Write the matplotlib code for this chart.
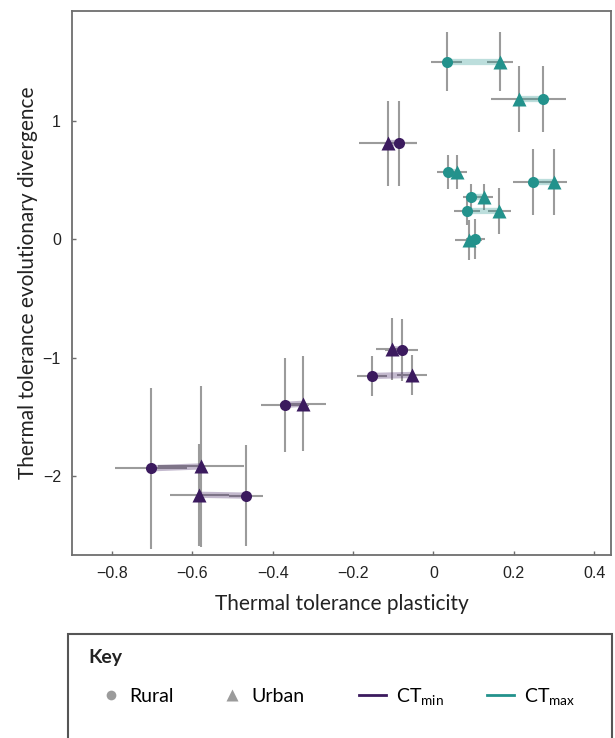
import numpy as np
import matplotlib
matplotlib.use("Agg")
import matplotlib.pyplot as plt
from matplotlib.lines import Line2D
from matplotlib.patches import Rectangle

plt.rcParams["font.family"] = ["Lato", "DejaVu Sans"]
plt.rcParams["mathtext.fontset"] = "custom"
plt.rcParams["mathtext.rm"] = "Lato"
plt.rcParams["mathtext.it"] = "Lato:italic"

# CTmax pairs (rural vs urban)
ctmax_rural_x = [0.033, 0.272, 0.037, 0.248, 0.094, 0.084, 0.104]
ctmax_rural_y = [1.50, 1.186, 0.566, 0.487, 0.355, 0.239, 0.00]
ctmax_rural_xerr = [0.038, 0.059, 0.029, 0.049, 0.021, 0.032, 0.024]
ctmax_rural_yerr = [0.25, 0.28, 0.145, 0.28, 0.11, 0.12, 0.17]
ctmax_urban_x = [0.166, 0.214, 0.059, 0.301, 0.126, 0.164, 0.088]
ctmax_urban_y = [1.50, 1.186, 0.57, 0.487, 0.36, 0.24, -0.005]
ctmax_urban_xerr = [0.033, 0.072, 0.025, 0.031, 0.022, 0.028, 0.034]
ctmax_urban_yerr = [0.25, 0.28, 0.145, 0.28, 0.11, 0.195, 0.17]

# CTmin pairs
ctmin_rural_x = [-0.087, -0.079, -0.153, -0.369, -0.703, -0.467]
ctmin_rural_y = [0.81, -0.936, -1.155, -1.40, -1.936, -2.167]
ctmin_rural_xerr = [0.046, 0.041, 0.038, 0.060, 0.089, 0.042]
ctmin_rural_yerr = [0.36, 0.26, 0.17, 0.40, 0.68, 0.43]
ctmin_urban_x = [-0.113, -0.103, -0.054, -0.324, -0.579, -0.583]
ctmin_urban_y = [0.81, -0.927, -1.147, -1.39, -1.92, -2.16]
ctmin_urban_xerr = [0.072, 0.040, 0.037, 0.057, 0.106, 0.073]
ctmin_urban_yerr = [0.36, 0.26, 0.17, 0.40, 0.68, 0.43]

CTMIN_COL = "#3b1a5e"
CTMAX_COL = "#23928c"
ERR_COL = "#9b9b9b"
FRAME_COL = "#6e6e6e"
W, H = 615, 738

fig = plt.figure(figsize=(W / 100, H / 100), dpi=100)
ax = fig.add_axes([72 / W, 1 - 555 / H, (611 - 72) / W, (555 - 11) / H])

groups = [
    (ctmax_rural_x, ctmax_rural_y, ctmax_rural_xerr, ctmax_rural_yerr,
     ctmax_urban_x, ctmax_urban_y, ctmax_urban_xerr, ctmax_urban_yerr, CTMAX_COL),
    (ctmin_rural_x, ctmin_rural_y, ctmin_rural_xerr, ctmin_rural_yerr,
     ctmin_urban_x, ctmin_urban_y, ctmin_urban_xerr, ctmin_urban_yerr, CTMIN_COL),
]

for rx, ry, rxe, rye, ux, uy, uxe, uye, col in groups:
    ax.errorbar(rx, ry, xerr=rxe, yerr=rye, fmt="none", ecolor=ERR_COL,
                elinewidth=1.5, capsize=0, zorder=1)
    ax.errorbar(ux, uy, xerr=uxe, yerr=uye, fmt="none", ecolor=ERR_COL,
                elinewidth=1.5, capsize=0, zorder=1)
    for a, b, c, d in zip(rx, ry, ux, uy):
        ax.plot([a, c], [b, d], color=col, alpha=0.3, lw=4.5,
                solid_capstyle="butt", zorder=2)
    ax.plot(rx, ry, "o", color=col, ms=8, mec="none", zorder=3)
    ax.plot(ux, uy, "^", color=col, ms=9.5, mec="none", zorder=3)

ax.set_xlim(-0.9, 0.442)
ax.set_ylim(-2.669, 1.93)
ax.set_xticks([-0.8, -0.6, -0.4, -0.2, 0, 0.2, 0.4])
ax.set_xticklabels(["\u22120.8", "\u22120.6", "\u22120.4", "\u22120.2", "0", "0.2", "0.4"])
ax.set_yticks([-2, -1, 0, 1])
ax.set_yticklabels(["\u22122", "\u22121", "0", "1"])
for lab in ax.get_xticklabels() + ax.get_yticklabels():
    lab.set_fontfamily("Liberation Sans")
    lab.set_fontsize(11.5)
    lab.set_color("#222222")
ax.tick_params(direction="in", length=3, width=1, color=FRAME_COL, pad=8)
for sp in ax.spines.values():
    sp.set_color(FRAME_COL)
    sp.set_linewidth(1.3)

ax.set_xlabel("Thermal tolerance plasticity", fontsize=15, color="#222222")
ax.set_ylabel("Thermal tolerance evolutionary divergence", fontsize=15, color="#222222")
ax.xaxis.set_label_coords(0.5, -0.072)
ax.yaxis.set_label_coords(-0.064, 0.5)

# key box
fig.add_artist(Rectangle((68 / W, -0.02), (612 - 68) / W, 0.02 + (H - 634) / H,
                         transform=fig.transFigure, fill=False,
                         edgecolor="#555555", lw=1.5))
fig.text(88 / W, 1 - 657.5 / H, "Key", fontsize=14, fontweight="bold",
         va="center", ha="left", color="#222222")

shape_handles = [
    Line2D([], [], ls="none", marker="o", color=ERR_COL, ms=7, mec="none"),
    Line2D([], [], ls="none", marker="^", color=ERR_COL, ms=8.5, mec="none"),
]
trait_handles = [
    Line2D([], [], color=CTMIN_COL, lw=2),
    Line2D([], [], color=CTMAX_COL, lw=2),
]
leg1 = fig.legend(shape_handles, ["Rural", "Urban"], ncol=2, loc="center left",
                  bbox_to_anchor=(96.9 / W, 1 - 696.7 / H), frameon=False,
                  fontsize=14, handlelength=1.42, handletextpad=0.25,
                  columnspacing=2.3, borderpad=0, borderaxespad=0)
leg2 = fig.legend(trait_handles, [r"CT$_{\mathrm{min}}$", r"CT$_{\mathrm{max}}$"],
                  ncol=2, loc="center left",
                  bbox_to_anchor=(358.6 / W, 1 - 696.7 / H), frameon=False,
                  fontsize=14, handlelength=1.42, handletextpad=0.5,
                  columnspacing=2.2, borderpad=0, borderaxespad=0)

fig.savefig("out.png", dpi=100)
